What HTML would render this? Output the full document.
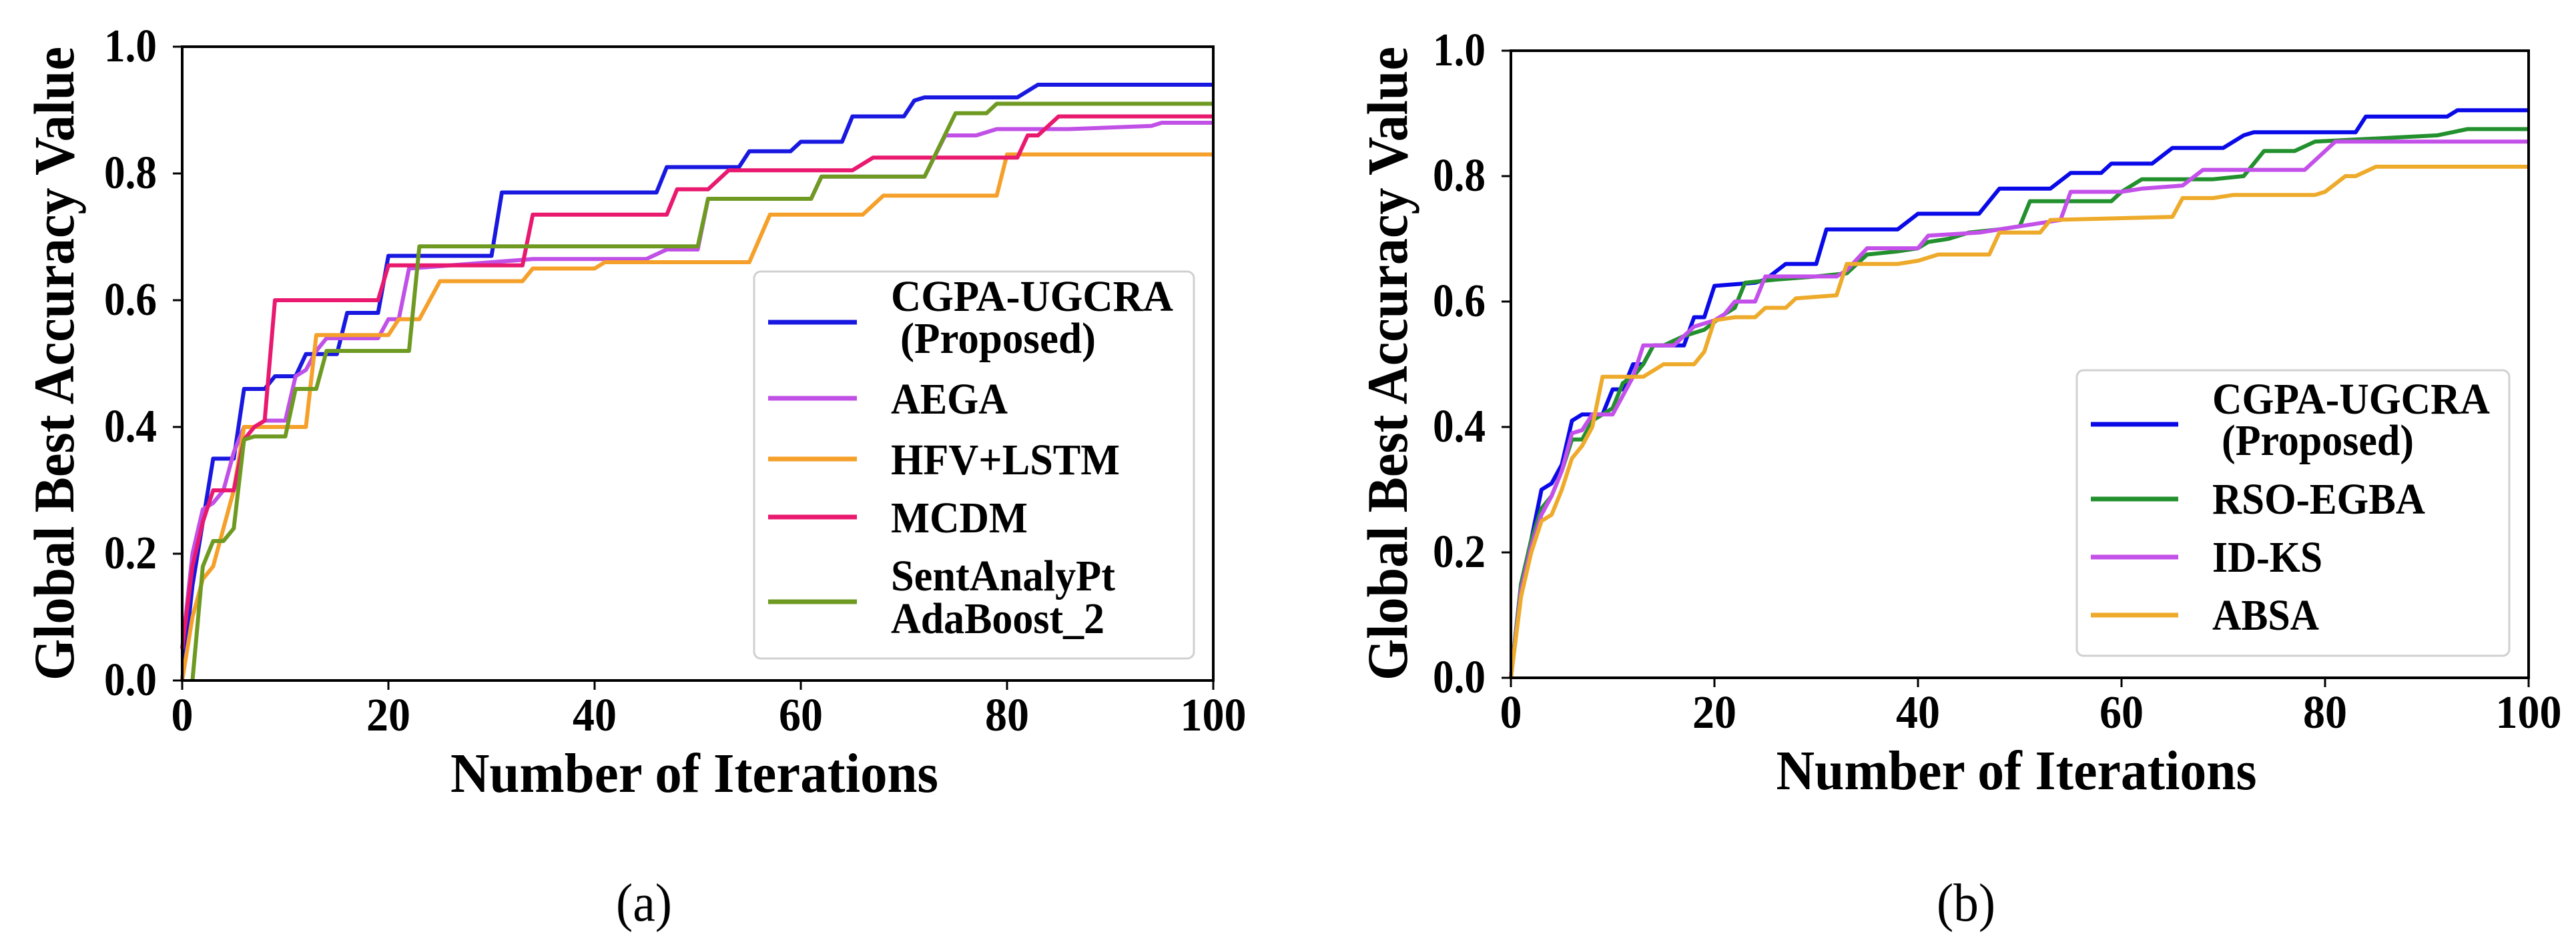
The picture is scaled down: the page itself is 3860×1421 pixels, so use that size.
<!DOCTYPE html>
<html><head><meta charset="utf-8"><style>
html,body{margin:0;padding:0;background:#fff;}
svg{display:block;}
text{font-family:"Liberation Serif",serif;font-weight:bold;fill:#000;}
</style></head><body>
<svg id="root" width="3860" height="1421" viewBox="0 0 3860 1421" xmlns="http://www.w3.org/2000/svg">
<rect width="3860" height="1421" fill="#fff"/>
<g id="chartA"></g>
<g id="chartB"></g>
<text x="965" y="1380" font-size="80" style="font-weight:normal" text-anchor="middle" textLength="84" lengthAdjust="spacingAndGlyphs">(a)</text>
<text x="2946" y="1380" font-size="80" style="font-weight:normal" text-anchor="middle" textLength="88" lengthAdjust="spacingAndGlyphs">(b)</text>
</svg>
<script>
// ---------- data: chart (a) ----------
const xTicks = [0, 20, 40, 60, 80, 100];
const yTicks = [0.0, 0.2, 0.4, 0.6, 0.8, 1.0];
const yTickLabels = ["0.0", "0.2", "0.4", "0.6", "0.8", "1.0"];

const aNames = ["CGPA-UGCRA", "AEGA", "HFV+LSTM", "MCDM", "SentAnalyPt AdaBoost_2"];
const aCgpaX = [0,1,2,3,5,6,8,9,11,12,15,16,19,20,30,31,46,47,54,55,59,60,64,65,70,71,72,81,83,100];
const aCgpaY = [0,0.15,0.25,0.35,0.35,0.46,0.46,0.48,0.48,0.515,0.515,0.58,0.58,0.67,0.67,0.77,0.77,0.81,0.81,0.835,0.835,0.85,0.85,0.89,0.89,0.915,0.92,0.92,0.94,0.94];
const aAegaX = [0,1,2,3,4,5,6,7,8,10,11,12,13,14,19,20,21,22,34,45,47,50,51,61,62,72,74,77,79,86,94,95,100];
const aAegaY = [0.05,0.2,0.27,0.28,0.30,0.36,0.40,0.40,0.41,0.41,0.48,0.49,0.52,0.54,0.54,0.57,0.57,0.65,0.665,0.665,0.68,0.68,0.76,0.76,0.795,0.795,0.86,0.86,0.87,0.87,0.875,0.88,0.88];
const aHfvX = [0,1,2,3,4,5,6,12,13,20,21,23,25,33,34,40,41,55,57,66,68,79,80,100];
const aHfvY = [0,0.1,0.16,0.18,0.24,0.30,0.40,0.40,0.545,0.545,0.57,0.57,0.63,0.63,0.65,0.65,0.66,0.66,0.735,0.735,0.765,0.765,0.83,0.83];
const aMcdmX = [0,1,2,3,5,6,7,8,9,19,20,33,34,47,48,51,53,65,67,81,82,83,85,100];
const aMcdmY = [0.05,0.18,0.25,0.30,0.30,0.38,0.40,0.41,0.60,0.60,0.655,0.655,0.735,0.735,0.775,0.775,0.805,0.805,0.825,0.825,0.86,0.86,0.89,0.89];
const aSentX = [1,2,3,4,5,6,7,10,11,13,14,22,23,50,51,61,62,72,75,78,79,100];
const aSentY = [0,0.18,0.22,0.22,0.24,0.38,0.385,0.385,0.46,0.46,0.52,0.52,0.685,0.685,0.76,0.76,0.795,0.795,0.895,0.895,0.91,0.91];

// ---------- data: chart (b) ----------
const bNames = ["CGPA-UGCRA", "RSO-EGBA", "ID-KS", "ABSA"];
const bCgpaX = [0,1,2,3,4,5,6,7,9,10,11,12,13,14,17,18,19,20,24,25,27,30,31,38,40,46,48,53,55,58,59,63,65,70,72,73,83,84,92,93,100];
const bCgpaY = [0,0.15,0.22,0.30,0.31,0.34,0.41,0.42,0.42,0.46,0.46,0.50,0.50,0.53,0.53,0.575,0.575,0.625,0.63,0.635,0.66,0.66,0.715,0.715,0.74,0.74,0.78,0.78,0.805,0.805,0.82,0.82,0.845,0.845,0.865,0.87,0.87,0.895,0.895,0.905,0.905];
const bRsoX = [0,1,2,3,4,5,6,7,8,10,11,12,13,14,15,17,18,19,21,22,23,26,30,33,35,38,40,41,43,45,48,50,51,59,60,62,69,72,74,77,79,91,94,100];
const bRsoY = [0,0.15,0.22,0.27,0.29,0.33,0.38,0.38,0.41,0.43,0.47,0.48,0.50,0.53,0.53,0.545,0.55,0.555,0.58,0.59,0.63,0.635,0.64,0.645,0.675,0.68,0.685,0.695,0.70,0.71,0.715,0.72,0.76,0.76,0.775,0.795,0.795,0.80,0.84,0.84,0.855,0.865,0.875,0.875];
const bIdksX = [0,1,2,3,4,5,6,7,8,10,11,12,13,16,17,18,20,21,22,24,25,32,33,35,40,41,46,50,54,55,60,62,66,68,78,80,81,100];
const bIdksY = [0,0.14,0.21,0.26,0.29,0.33,0.39,0.395,0.42,0.42,0.45,0.48,0.53,0.53,0.545,0.56,0.57,0.58,0.60,0.60,0.64,0.64,0.65,0.685,0.685,0.705,0.71,0.72,0.73,0.775,0.775,0.78,0.785,0.81,0.81,0.84,0.855,0.855];
const bAbsaX = [0,1,2,3,4,5,6,7,8,9,13,15,18,19,20,22,24,25,27,28,32,33,38,40,42,47,48,52,53,65,66,69,71,79,80,82,83,85,100];
const bAbsaY = [0,0.13,0.20,0.25,0.26,0.30,0.35,0.37,0.40,0.48,0.48,0.50,0.50,0.52,0.57,0.575,0.575,0.59,0.59,0.605,0.61,0.66,0.66,0.665,0.675,0.675,0.71,0.71,0.73,0.735,0.765,0.765,0.77,0.77,0.775,0.80,0.80,0.815,0.815];

const NS = "http://www.w3.org/2000/svg";
function mk(tag, attrs, parent) {
  const e = document.createElementNS(NS, tag);
  for (const k in attrs) e.setAttribute(k, attrs[k]);
  if (parent) parent.appendChild(e);
  return e;
}

function drawChart(g, cfg) {
  const sx = v => cfg.left + (v - 0) / 100 * (cfg.right - cfg.left);
  const sy = v => cfg.bottom - v * (cfg.bottom - cfg.top);
  cfg.series.forEach((s, i) => {
    let d = "";
    s.xs.forEach((xv, j) => { d += (j ? "L" : "M") + sx(xv).toFixed(1) + "," + sy(s.ys[j]).toFixed(1); });
    const p = mk("path", {d: d, fill: "none", stroke: s.color, "stroke-width": 6, "stroke-linejoin": "round"}, g);
    
    
  });
  const fr = mk("rect", {x: cfg.left, y: cfg.top, width: cfg.right - cfg.left, height: cfg.bottom - cfg.top, fill: "none", stroke: "#000", "stroke-width": 4}, g);
  
  
  xTicks.forEach(t => {
    const x = sx(t);
    const tl = mk("line", {x1: x, y1: cfg.bottom, x2: x, y2: cfg.bottom + 14, stroke: "#000", "stroke-width": 3}, g);
    
    
    const w = String(t).length * 33;
    const tx = mk("text", {x: x, y: cfg.bottom + 75, "font-size": 70, "text-anchor": "middle", textLength: w, lengthAdjust: "spacingAndGlyphs"}, g);
    tx.textContent = String(t);
    
    
  });
  yTicks.forEach((t, i) => {
    const y = sy(t);
    const tl = mk("line", {x1: cfg.left - 14, y1: y, x2: cfg.left, y2: y, stroke: "#000", "stroke-width": 3}, g);
    
    
    const tx = mk("text", {x: cfg.left - 38, y: y + 22, "font-size": 70, "text-anchor": "end", textLength: 79, lengthAdjust: "spacingAndGlyphs"}, g);
    tx.textContent = yTickLabels[i];
    
    
  });
  const xt = mk("text", {x: (cfg.left + cfg.right) / 2 - 5, y: cfg.bottom + 167, "font-size": 84, "text-anchor": "middle", textLength: cfg.xTitleLen, lengthAdjust: "spacingAndGlyphs"}, g);
  xt.textContent = "Number of Iterations";
  
  
  const cy = 545;
  const yt = mk("text", {x: 0, y: 0, "font-size": 86, "text-anchor": "middle", textLength: 950, lengthAdjust: "spacingAndGlyphs", transform: "translate(" + cfg.yTitleX + "," + cy + ") rotate(-90)"}, g);
  yt.textContent = "Global Best Accuracy Value";
  
  
  const L = cfg.legend;
  const lg = mk("g", {}, g);
  
  
  mk("rect", {x: L.x, y: L.y, width: L.w, height: L.h, rx: 10, fill: "#fff", "fill-opacity": 0.9, stroke: "#d0d0d0", "stroke-width": 3}, lg);
  L.entries.forEach((en, i) => {
    const eg = mk("g", {}, lg);
    
    
    mk("line", {x1: L.lx1, x2: L.lx2, y1: en.ly, y2: en.ly, stroke: cfg.series[i].color, "stroke-width": 7}, eg);
    en.lines.forEach(ln => {
      const t = mk("text", {x: L.tx + (ln.dx || 0), y: ln.y, "font-size": 66, textLength: ln.w, lengthAdjust: "spacingAndGlyphs"}, eg);
      t.textContent = ln.t;
    });
  });
}

drawChart(document.getElementById("chartA"), {
  left: 273, right: 1818, top: 70, bottom: 1020, yTitleX: 110, xTitleLen: 731,
  series: [
    {key: "cgpa-ugcra", color: "#1818e0", xs: aCgpaX, ys: aCgpaY},
    {key: "aega", color: "#c050e6", xs: aAegaX, ys: aAegaY},
    {key: "hfv-lstm", color: "#f5a02a", xs: aHfvX, ys: aHfvY},
    {key: "mcdm", color: "#e8196e", xs: aMcdmX, ys: aMcdmY},
    {key: "sentanalypt", color: "#6e9a22", xs: aSentX, ys: aSentY}
  ],
  legend: {x: 1130, y: 407, w: 659, h: 580, lx1: 1151, lx2: 1284, tx: 1335,
    entries: [
      {ly: 483, lines: [{t: "CGPA-UGCRA", y: 466, w: 423}, {t: "(Proposed)", y: 529, w: 293, dx: 14}]},
      {ly: 597, lines: [{t: "AEGA", y: 620, w: 175}]},
      {ly: 688, lines: [{t: "HFV+LSTM", y: 711, w: 343}]},
      {ly: 775, lines: [{t: "MCDM", y: 798, w: 205}]},
      {ly: 902, lines: [{t: "SentAnalyPt", y: 885, w: 336}, {t: "AdaBoost_2", y: 949, w: 320}]}
    ]}
});

drawChart(document.getElementById("chartB"), {
  left: 2264, right: 3789, top: 76, bottom: 1016, yTitleX: 2108, xTitleLen: 720,
  series: [
    {key: "cgpa-ugcra", color: "#0a0ae8", xs: bCgpaX, ys: bCgpaY},
    {key: "rso-egba", color: "#23902e", xs: bRsoX, ys: bRsoY},
    {key: "id-ks", color: "#c450ea", xs: bIdksX, ys: bIdksY},
    {key: "absa", color: "#eeaa2a", xs: bAbsaX, ys: bAbsaY}
  ],
  legend: {x: 3112, y: 555, w: 648, h: 428, lx1: 3133, lx2: 3264, tx: 3315,
    entries: [
      {ly: 636, lines: [{t: "CGPA-UGCRA", y: 620, w: 416}, {t: "(Proposed)", y: 682, w: 288, dx: 14}]},
      {ly: 748, lines: [{t: "RSO-EGBA", y: 770, w: 319}]},
      {ly: 835, lines: [{t: "ID-KS", y: 857, w: 165}]},
      {ly: 922, lines: [{t: "ABSA", y: 944, w: 160}]}
    ]}
});
</script>
</body></html>
